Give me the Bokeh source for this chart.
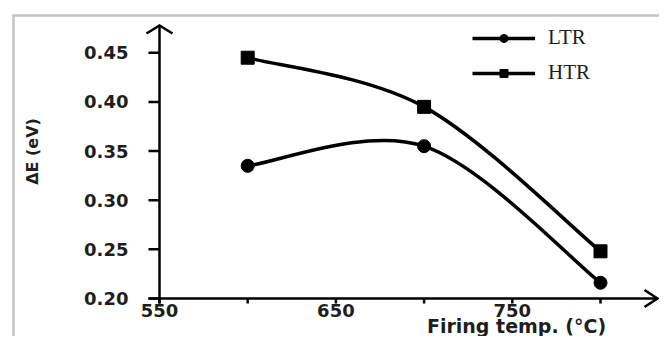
from bokeh.plotting import figure
from bokeh.models import Range1d, FixedTicker, NumeralTickFormatter, Legend, LegendItem, Label
from bokeh.embed import file_html
from bokeh.resources import INLINE

# ---- data ----
temps = [600, 700, 800]
ltr = [0.335, 0.355, 0.216]
htr = [0.445, 0.395, 0.248]
series_names = ["LTR", "HTR"]
x_ticks = [550, 600, 650, 700, 750, 800]
x_tick_labels = ["550", "", "650", "", "750", ""]
y_ticks = [0.20, 0.25, 0.30, 0.35, 0.40, 0.45]
x_title = "Firing temp. (°C)"
y_title = "ΔE (eV)"

# ---- layout (pixel geometry of the canvas) ----
W, H = 659, 336
AX_X, AX_Y = 550, 0.20          # where the two axes cross
AX_PX, AX_PY = 159, 298         # pixel position of that crossing
SX = 88.2 / 50                  # px per °C
SY = 49.14 / 0.05               # px per eV
X_START = AX_X - AX_PX / SX
X_END = X_START + W / SX
Y_END = AX_Y + AX_PY / SY
Y_START = Y_END - H / SY


def px2x(px):
    return X_START + px / SX


def py2y(py):
    return Y_END - py / SY


TXT = "#1e1e1e"

p = figure(width=W, height=H, output_backend="svg", toolbar_location=None,
           x_range=Range1d(X_START, X_END), y_range=Range1d(Y_START, Y_END),
           min_border=0, min_border_left=0, min_border_right=0,
           min_border_top=0, min_border_bottom=0)
p.background_fill_color = "white"
p.border_fill_color = "white"
p.outline_line_color = None
p.grid.visible = False

# axes through the crossing point
p.xaxis.fixed_location = AX_Y
p.yaxis.fixed_location = AX_X
p.xaxis.ticker = FixedTicker(ticks=x_ticks)
p.xaxis.major_label_overrides = {t: l for t, l in zip(x_ticks, x_tick_labels)}
p.yaxis.ticker = FixedTicker(ticks=y_ticks)
p.yaxis.formatter = NumeralTickFormatter(format="0.00")
for ax in (p.xaxis, p.yaxis):
    ax.axis_line_color = None
    ax.minor_tick_line_color = None
    ax.major_tick_line_color = None
    ax.major_tick_in = 0
    ax.major_label_text_font = "DejaVu Sans"
    ax.major_label_text_font_style = "bold"
    ax.major_label_text_font_size = "18px"
    ax.major_label_text_color = TXT
p.xaxis.major_tick_out = 5
p.xaxis.major_label_standoff = 0
p.yaxis.major_tick_out = 11
p.yaxis.major_label_standoff = 20

# tick marks at the tick values (outside the axes)
p.segment(x0=[px2x(AX_PX - 11)] * len(y_ticks), y0=y_ticks, x1=[AX_X] * len(y_ticks), y1=y_ticks,
          line_color="black", line_width=2.5)
p.segment(x0=x_ticks, y0=[AX_Y] * len(x_ticks), x1=x_ticks, y1=[py2y(AX_PY + 5)] * len(x_ticks),
          line_color="black", line_width=2.5)

# light grey frame (top and left edges of the pasted chart)
p.multi_line(xs=[[px2x(13), px2x(13)], [px2x(12), px2x(W + 5)]],
             ys=[[py2y(14), py2y(H + 5)], [py2y(15), py2y(15)]],
             line_color="#c4c4c4", line_width=2.5)

# axis lines with open arrow heads
tip_x, tip_y = px2x(657), py2y(25)
p.multi_line(xs=[[AX_X, AX_X], [px2x(148), tip_x]],
             ys=[[py2y(AX_PY + 5), tip_y], [AX_Y, AX_Y]],
             line_color="black", line_width=2.5)
p.multi_line(xs=[[px2x(AX_PX - 13), AX_X, px2x(AX_PX + 13)],
                 [px2x(657 - 13), tip_x, px2x(657 - 13)]],
             ys=[[py2y(33), tip_y, py2y(33)],
                 [py2y(AX_PY - 8.5), AX_Y, py2y(AX_PY + 8.5)]],
             line_color="black", line_width=2.5, line_join="miter")


def smooth_segments(xs, ys):
    # Excel-style smoothed line: cubic Bezier segments with control points from neighbours
    n = len(xs)
    out = {"x0": [], "y0": [], "x1": [], "y1": [], "cx0": [], "cy0": [], "cx1": [], "cy1": []}
    for i in range(n - 1):
        im = max(i - 1, 0)
        ip = min(i + 2, n - 1)
        out["x0"].append(xs[i]); out["y0"].append(ys[i])
        out["x1"].append(xs[i + 1]); out["y1"].append(ys[i + 1])
        out["cx0"].append(xs[i] + (xs[i + 1] - xs[im]) / 6)
        out["cy0"].append(ys[i] + (ys[i + 1] - ys[im]) / 6)
        out["cx1"].append(xs[i + 1] - (xs[ip] - xs[i]) / 6)
        out["cy1"].append(ys[i + 1] - (ys[ip] - ys[i]) / 6)
    return out


items = []
for name, ys, marker in [(series_names[0], ltr, "circle"), (series_names[1], htr, "square")]:
    seg = smooth_segments(temps, ys)
    rb = p.bezier(x0=seg["x0"], y0=seg["y0"], x1=seg["x1"], y1=seg["y1"],
                  cx0=seg["cx0"], cy0=seg["cy0"], cx1=seg["cx1"], cy1=seg["cy1"],
                  line_color="black", line_width=3.5)
    rm = p.scatter(temps, ys, marker=marker, size=13, fill_color="black", line_color="black")
    items.append(LegendItem(label=name, renderers=[rb, rm]))

leg = Legend(items=items, location=(472, 251), orientation="vertical")
leg.background_fill_alpha = 0
leg.border_line_color = None
leg.padding = 0
leg.margin = 0
leg.spacing = 10
leg.glyph_width = 63
leg.glyph_height = 20
leg.label_height = 20
leg.label_standoff = 13
leg.label_text_font = "Liberation Serif"
leg.label_text_font_size = "21px"
leg.label_text_color = TXT
p.add_layout(leg, "center")

p.add_layout(Label(x=px2x(516), y=py2y(336), text=x_title,
                   text_font="DejaVu Sans", text_font_style="bold", text_font_size="19px",
                   text_color=TXT, text_align="center", text_baseline="bottom"))
p.add_layout(Label(x=px2x(32), y=py2y(151), text=y_title, angle=90, angle_units="deg",
                   text_font="DejaVu Sans", text_font_style="bold", text_font_size="16px",
                   text_color=TXT, text_align="center", text_baseline="middle"))

open("out.html", "w").write(file_html(p, INLINE))
